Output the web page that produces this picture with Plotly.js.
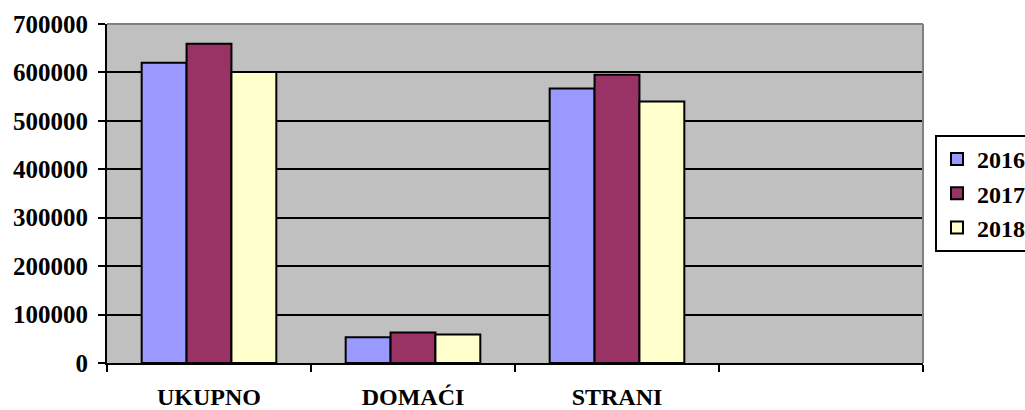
<!DOCTYPE html>
<html>
<head>
<meta charset="utf-8">
<script src="https://cdn.plot.ly/plotly-3.0.1.min.js"></script>
<style>html,body{margin:0;padding:0;background:#fff;}#chart{width:1025px;height:410px;}</style>
</head>
<body>
<div id="chart"></div>
<script>
const categories = ['UKUPNO', 'DOMAĆI', 'STRANI', ' '];
const years = ['2016', '2017', '2018'];
const values2016 = [620000, 53000, 567000, null];
const values2017 = [659000, 63000, 595000, null];
const values2018 = [601000, 59000, 540000, null];
const colors = ['#9999FF', '#993366', '#FFFFCC'];
const yTicks = [0, 100000, 200000, 300000, 400000, 500000, 600000, 700000];

const series = [values2016, values2017, values2018];
const font = {family: '"Liberation Serif", "Times New Roman", serif', color: '#000', size: 24};

const traces = series.map((vals, i) => ({
  type: 'bar',
  name: '<b>' + years[i] + '</b>',
  x: categories,
  y: vals,
  marker: {color: colors[i], line: {color: '#000', width: 2}},
  hoverinfo: 'skip'
}));

const layout = {
  width: 1025, height: 410,
  margin: {l: 107, r: 102, t: 24, b: 47, autoexpand: false},
  paper_bgcolor: '#FFFFFF',
  plot_bgcolor: '#C0C0C0',
  barmode: 'group',
  bargap: 0.34,
  bargroupgap: 0,
  font: font,
  showlegend: true,
  legend: {
    x: 1.0147, xanchor: 'left', y: 0.5, yanchor: 'middle',
    bgcolor: '#FFFFFF', bordercolor: '#000', borderwidth: 2,
    font: {family: font.family, size: 24, color: '#000'},
    itemwidth: 30
  },
  xaxis: {
    type: 'category',
    categoryorder: 'array', categoryarray: categories,
    tickson: 'boundaries',
    ticks: 'outside', ticklen: 7, tickwidth: 2, tickcolor: '#000',
    showline: true, linecolor: '#000', linewidth: 2,
    showgrid: false, zeroline: false,
    ticklabelstandoff: 11,
    tickfont: {family: font.family, size: 24, color: '#000', weight: 'bold'}
  },
  yaxis: {
    range: [0, 700000],
    tickvals: yTicks,
    ticktext: yTicks.map(v => '<b>' + v + '</b>'),
    ticks: 'outside', ticklen: 7, tickwidth: 2, tickcolor: '#000',
    showline: true, linecolor: '#000', linewidth: 2,
    showgrid: true, gridcolor: '#000', gridwidth: 2,
    zeroline: false,
    ticklabelstandoff: 5,
    tickfont: {family: font.family, size: 25, color: '#000'}
  },
  shapes: [
    {type: 'line', xref: 'paper', yref: 'paper', x0: 0, x1: 1, y0: 1, y1: 1, line: {color: '#808080', width: 2}, layer: 'above'},
    {type: 'line', xref: 'paper', yref: 'paper', x0: 1, x1: 1, y0: 0, y1: 1, line: {color: '#808080', width: 2}, layer: 'above'}
  ]
};

Plotly.newPlot('chart', traces, layout, {staticPlot: true, displayModeBar: false});
</script>
</body>
</html>
